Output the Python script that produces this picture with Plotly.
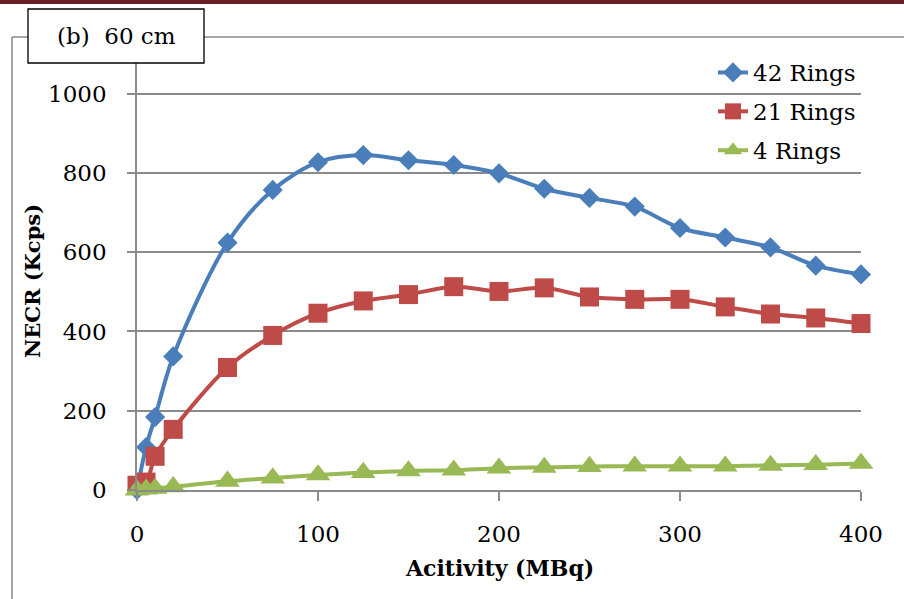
import plotly.graph_objects as go

# ---- data ----
activity = [0, 5, 10, 20, 50, 75, 100, 125, 150, 175, 200, 225, 250, 275, 300, 325, 350, 375, 400]
rings42 = [0, 108, 184, 337, 624, 757, 827, 845, 832, 820, 799, 760, 737, 715, 661, 637, 612, 566, 544]
rings21 = [12, 20, 85, 153, 309, 390, 446, 477, 493, 513, 501, 510, 487, 481, 481, 462, 444, 434, 420]
rings4 = [0, 2, 4, 8, 22, 30, 38, 44, 48, 50, 55, 57, 59, 60, 60, 60, 62, 64, 67]

series_names = ["42 Rings", "21 Rings", "4 Rings"]
x_ticks = [0, 100, 200, 300, 400]
y_ticks = [0, 200, 400, 600, 800, 1000]

# ---- layout constants (pixels) ----
W, H = 904, 599
ML, MR, MT, MB = 137, 43, 54, 109
PW, PH = W - ML - MR, H - MT - MB
FONT = "DejaVu Serif"
GRID = "#8a8a8a"


def px(xp):
    return (xp - ML) / PW


def py(yp):
    return (H - MB - yp) / PH


styles = [
    dict(color="#4A7EBB", symbol="diamond", size=15.5),
    dict(color="#BE4B48", symbol="square", size=19),
    dict(color="#98B954", symbol="triangle-up", size=21.5),
]

fig = go.Figure()
for name, ys, st in zip(series_names, [rings42, rings21, rings4], styles):
    fig.add_trace(go.Scatter(
        x=activity, y=ys, name=name, mode="lines+markers",
        line=dict(color=st["color"], width=4, shape="spline", smoothing=0.9),
        marker=dict(color=st["color"], symbol=st["symbol"], size=st["size"], line=dict(width=0)),
        cliponaxis=False, legendgroup=name,
    ))

fig.update_layout(
    width=W, height=H, autosize=False,
    margin=dict(l=ML, r=MR, t=MT, b=MB, pad=0),
    paper_bgcolor="white", plot_bgcolor="white",
    font=dict(family=FONT, size=23, color="black"),
    showlegend=True,
    legend=dict(
        x=px(713), y=py(51), xanchor="left", yanchor="top",
        bgcolor="rgba(0,0,0,0)", borderwidth=0,
        font=dict(family=FONT, size=23, color="black"),
        tracegroupgap=6, itemsizing="trace",
    ),
    xaxis=dict(
        range=[0, 400], tickvals=x_ticks, ticktext=[str(v) for v in x_ticks],
        showgrid=False, zeroline=False,
        showline=True, linecolor=GRID, linewidth=1.5,
        ticks="outside", ticklen=9, tickwidth=1.5, tickcolor=GRID,
        ticklabelstandoff=14,
        tickfont=dict(family=FONT, size=23, color="black"),
    ),
    yaxis=dict(
        range=[0, 1100], tickvals=y_ticks, ticktext=[str(v) for v in y_ticks],
        showgrid=True, gridcolor=GRID, gridwidth=1.5, zeroline=False,
        showline=True, linecolor=GRID, linewidth=1.5,
        ticks="outside", ticklen=8, tickwidth=1.5, tickcolor=GRID,
        ticklabelstandoff=16,
        tickfont=dict(family=FONT, size=23, color="black"),
    ),
)

shapes = [
    # dark top bar
    dict(type="rect", xref="paper", yref="paper", x0=px(-5), x1=px(W + 5), y0=py(4), y1=py(-5),
         fillcolor="#6a2026", line=dict(width=0), layer="above"),
    # outer chart frame
    dict(type="line", xref="paper", yref="paper", x0=px(12), x1=px(W + 5), y0=py(37), y1=py(37),
         line=dict(color=GRID, width=1.5), layer="below"),
    dict(type="line", xref="paper", yref="paper", x0=px(12), x1=px(12), y0=py(37), y1=py(H + 5),
         line=dict(color=GRID, width=1.5), layer="below"),
    # label box
    dict(type="rect", xref="paper", yref="paper", x0=px(28), x1=px(204), y0=py(63), y1=py(9),
         fillcolor="white", line=dict(color="black", width=1.3), layer="above"),
]
fig.update_layout(shapes=shapes)

annotations = [
    dict(text="(b)\u00a0\u00a060 cm", xref="paper", yref="paper", x=px(116), y=py(36),
         xanchor="center", yanchor="middle", showarrow=False,
         font=dict(family=FONT, size=23, color="black")),
    dict(text="<b>Acitivity (MBq)</b>", xref="paper", yref="paper", x=px(499), y=py(568),
         xanchor="center", yanchor="middle", showarrow=False,
         font=dict(family=FONT, size=22, color="black")),
    dict(text="<b>NECR (Kcps)</b>", xref="paper", yref="paper", x=px(32), y=py(281),
         xanchor="center", yanchor="middle", showarrow=False, textangle=-90,
         font=dict(family=FONT, size=21, color="black")),
]
fig.update_layout(annotations=annotations)

fig.write_html("out.html")
